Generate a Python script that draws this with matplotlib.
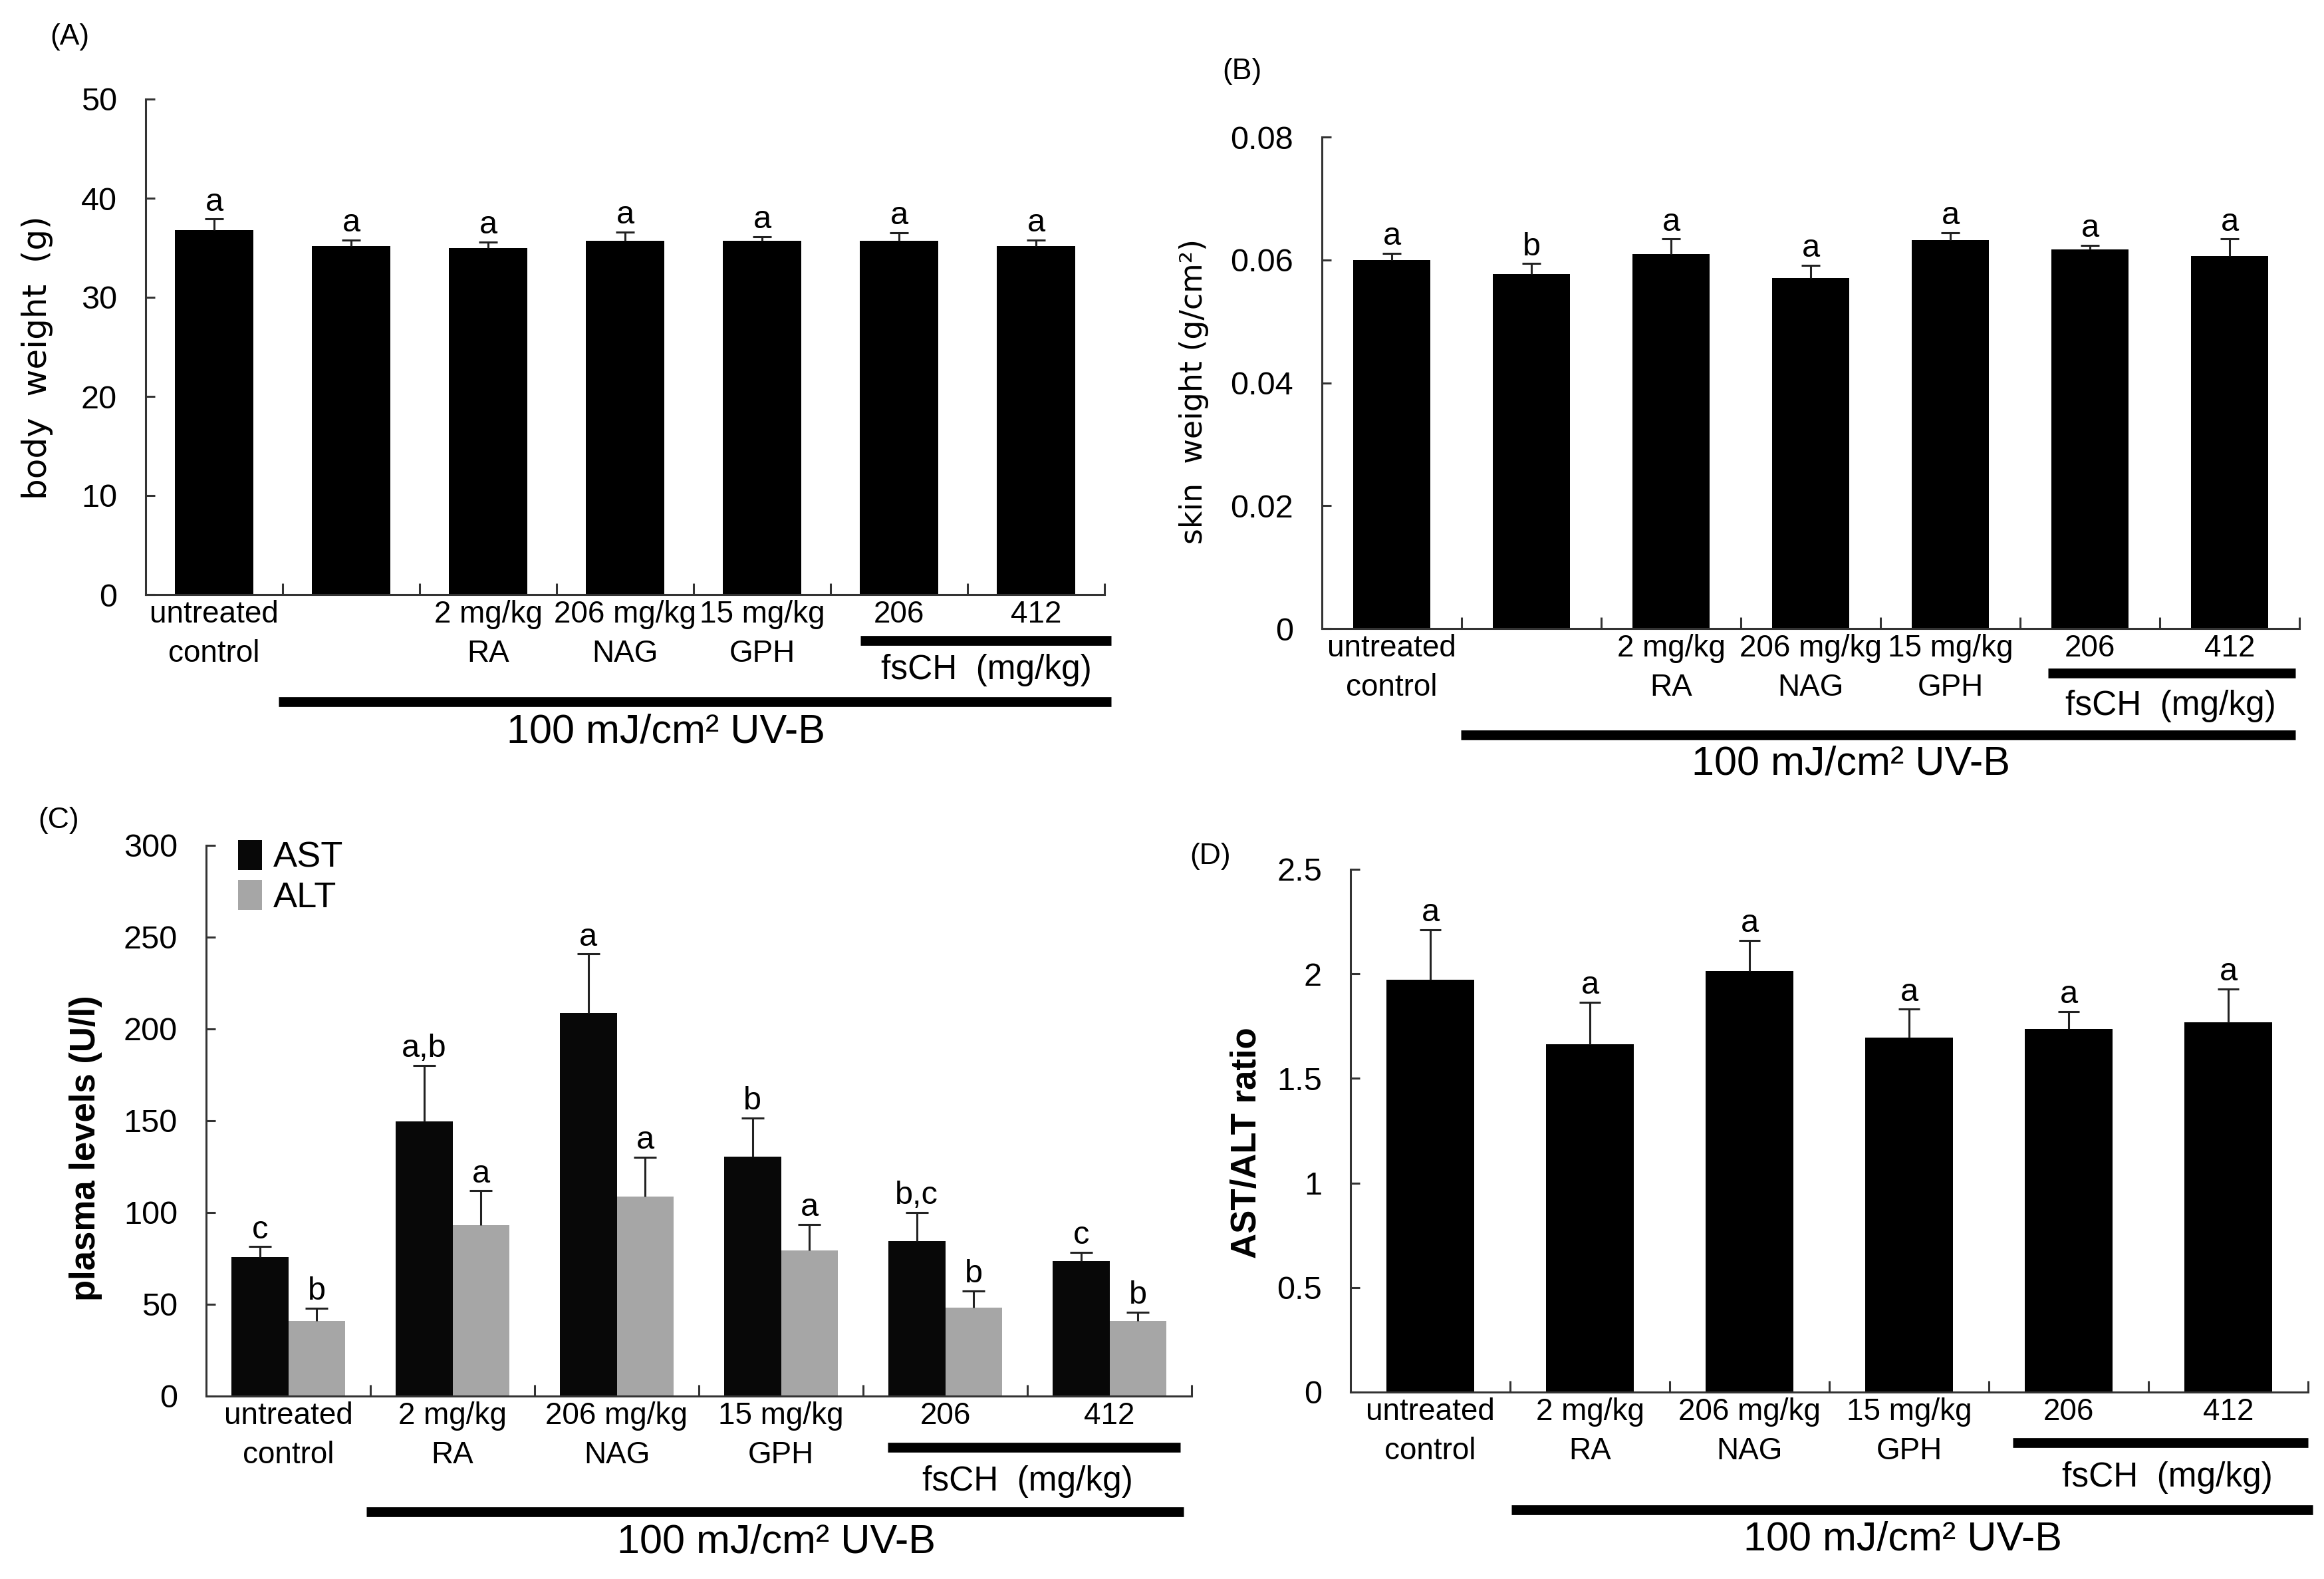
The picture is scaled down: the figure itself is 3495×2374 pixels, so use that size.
import matplotlib
matplotlib.use("Agg")
import matplotlib.pyplot as plt
import numpy as np
from matplotlib.transforms import blended_transform_factory
from matplotlib.patches import Patch

# ---------------- data ----------------
groups_AB = ["untreated\ncontrol", "", "2 mg/kg\nRA", "206 mg/kg\nNAG",
             "15 mg/kg\nGPH", "206", "412"]
groups_CD = ["untreated\ncontrol", "2 mg/kg\nRA", "206 mg/kg\nNAG",
             "15 mg/kg\nGPH", "206", "412"]

body_weight = [36.8, 35.2, 35.0, 35.7, 35.7, 35.7, 35.2]
body_err = [1.1, 0.6, 0.6, 0.9, 0.4, 0.8, 0.6]
body_letters = ["a", "a", "a", "a", "a", "a", "a"]

skin_weight = [0.0600, 0.0577, 0.0610, 0.0570, 0.0632, 0.0617, 0.0606]
skin_err = [0.0011, 0.0017, 0.0024, 0.0021, 0.0012, 0.0007, 0.0028]
skin_letters = ["a", "b", "a", "a", "a", "a", "a"]

ast = [75.7, 149.6, 208.7, 130.3, 84.4, 73.6]
ast_err = [5.7, 30.6, 32.1, 21.2, 15.5, 4.6]
ast_letters = ["c", "a,b", "a", "b", "b,c", "c"]
alt = [41.0, 93.1, 108.6, 79.5, 48.3, 41.0]
alt_err = [6.8, 18.7, 21.4, 14.1, 9.0, 4.6]
alt_letters = ["b", "a", "a", "a", "b", "b"]

ratio = [1.971, 1.664, 2.012, 1.695, 1.738, 1.769]
ratio_err = [0.241, 0.200, 0.148, 0.136, 0.081, 0.160]
ratio_letters = ["a", "a", "a", "a", "a", "a"]

yticks_A = [0, 10, 20, 30, 40, 50]
yticklabels_A = ["0", "10", "20", "30", "40", "50"]
yticks_B = [0, 0.02, 0.04, 0.06, 0.08]
yticklabels_B = ["0", "0.02", "0.04", "0.06", "0.08"]
yticks_C = [0, 50, 100, 150, 200, 250, 300]
yticklabels_C = ["0", "50", "100", "150", "200", "250", "300"]
yticks_D = [0, 0.5, 1, 1.5, 2, 2.5]
yticklabels_D = ["0", "0.5", "1", "1.5", "2", "2.5"]

# ---------------- figure ----------------
W, H, DPI = 3495, 2374, 200
FONT = ["Liberation Sans", "DejaVu Sans"]
plt.rcParams["font.family"] = FONT

fig = plt.figure(figsize=(W / DPI, H / DPI), dpi=DPI)
fig.patch.set_facecolor("white")


def px_rect(l, r, t, b):
    return [l / W, 1 - b / H, (r - l) / W, (b - t) / H]


axA = fig.add_axes(px_rect(219, 1661, 149, 894))
axB = fig.add_axes(px_rect(1988, 3458, 206, 945))
axC = fig.add_axes(px_rect(310, 1792, 1271, 2099))
axD = fig.add_axes(px_rect(2031, 3471, 1307, 2093))

SPINE = "#333333"
TICK_FS = 16.5


def style_axes(ax, n, ymax, yticks, yticklabels, xlabels):
    ax.set_xlim(-0.5, n - 0.5)
    ax.set_ylim(0, ymax)
    for s in ["top", "right"]:
        ax.spines[s].set_visible(False)
    for s in ["left", "bottom"]:
        ax.spines[s].set_linewidth(1.1)
        ax.spines[s].set_color(SPINE)
    ax.set_yticks(yticks, yticklabels)
    ax.tick_params(axis="y", direction="in", length=5, width=1.1, color=SPINE,
                   pad=15.5, labelsize=17.5)
    ax.set_xticks(np.arange(n), xlabels)
    ax.set_xticks(np.arange(n) + 0.5, minor=True)
    ax.tick_params(axis="x", which="major", length=0, pad=3, labelsize=TICK_FS)
    ax.tick_params(axis="x", which="minor", direction="in", length=6,
                   width=1.1, color=SPINE)
    for t in ax.get_xticklabels():
        t.set_linespacing(1.42)


def err_and_letters(ax, x, vals, errs, letters, half=0.068):
    vals = np.asarray(vals)
    tops = vals + np.asarray(errs)
    ax.vlines(x, vals, tops, colors="#222222", lw=1.1, zorder=3)
    ax.hlines(tops, x - half, x + half, colors="#222222", lw=1.1, zorder=3)
    for xi, t, l in zip(x, tops, letters):
        ax.annotate(l, (xi, t), xytext=(0, 1), textcoords="offset points",
                    ha="center", va="bottom", fontsize=17.5)


def brackets(ax, fs_x, fs_off, fs_tx, fs_toff, uv_x, uv_off, uv_tx, uv_toff):
    hpx = ax.get_position().height * H
    tr = blended_transform_factory(ax.transData, ax.transAxes)
    ax.plot(fs_x, [-fs_off / hpx] * 2, transform=tr, color="black", lw=5.3,
            clip_on=False, solid_capstyle="butt")
    ax.text(fs_tx, -fs_toff / hpx, "fsCH  (mg/kg)", transform=tr, ha="center",
            va="center", fontsize=18.5)
    ax.plot(uv_x, [-uv_off / hpx] * 2, transform=tr, color="black", lw=5.3,
            clip_on=False, solid_capstyle="butt")
    ax.text(uv_tx, -uv_toff / hpx, "100 mJ/cm² UV-B", transform=tr,
            ha="center", va="center", fontsize=22)


# ---- (A) body weight ----
nA = len(groups_AB)
xA = np.arange(nA)
axA.bar(xA, body_weight, width=0.573, color="black", zorder=2)
err_and_letters(axA, xA, body_weight, body_err, body_letters)
style_axes(axA, nA, 50, yticks_A, yticklabels_A, groups_AB)
axA.text(-0.113, 0.478, "body  weight  (g)", transform=axA.transAxes,
         rotation=90, ha="center", va="center", fontsize=18,
         family=["DejaVu Sans"])
brackets(axA, [4.72, 6.55], 69, 5.64, 114, [0.47, 6.55], 161, 3.3, 207)

# ---- (B) skin weight ----
xB = np.arange(nA)
axB.bar(xB, skin_weight, width=0.548, color="black", zorder=2)
err_and_letters(axB, xB, skin_weight, skin_err, skin_letters)
style_axes(axB, nA, 0.08, yticks_B, yticklabels_B, groups_AB)
axB.text(-0.131, 0.482, "skin  weight (g/cm²)", transform=axB.transAxes,
         rotation=90, ha="center", va="center", fontsize=16.5,
         family=["DejaVu Sans"])
brackets(axB, [4.70, 6.47], 67, 5.58, 116, [0.495, 6.47], 160, 3.29, 204)

# ---- (C) plasma levels ----
nC = len(groups_CD)
xC = np.arange(nC)
bw = 0.346
axC.bar(xC - bw / 2, ast, width=bw, color="#080808", zorder=2, label="AST")
axC.bar(xC + bw / 2, alt, width=bw, color="#a6a6a6", zorder=2, label="ALT")
err_and_letters(axC, xC - bw / 2, ast, ast_err, ast_letters)
err_and_letters(axC, xC + bw / 2, alt, alt_err, alt_letters)
style_axes(axC, nC, 300, yticks_C, yticklabels_C, groups_CD)
axC.text(-0.122, 0.45, "plasma levels (U/l)", transform=axC.transAxes,
         rotation=90, ha="center", va="center", fontsize=19, fontweight="bold")
axC.legend(handles=[Patch(facecolor="#080808", edgecolor="none", label="AST"),
                    Patch(facecolor="#a6a6a6", edgecolor="none", label="ALT")],
           loc="upper left", bbox_to_anchor=(0.0324, 1.01), frameon=False,
           borderaxespad=0, borderpad=0, fontsize=19.5, handlelength=0.67,
           handleheight=0.9, handletextpad=0.3, labelspacing=0.15)
brackets(axC, [3.65, 5.43], 77, 4.5, 128, [0.476, 5.45], 174, 2.97, 221)

# ---- (D) AST/ALT ratio ----
xD = np.arange(nC)
axD.bar(xD, ratio, width=0.546, color="black", zorder=2)
err_and_letters(axD, xD, ratio, ratio_err, ratio_letters)
style_axes(axD, nC, 2.5, yticks_D, yticklabels_D, groups_CD)
axD.text(-0.108, 0.477, "AST/ALT ratio", transform=axD.transAxes,
         rotation=90, ha="center", va="center", fontsize=19, fontweight="bold")
brackets(axD, [3.65, 5.5], 76, 4.62, 129, [0.51, 5.53], 177, 2.96, 222)

# ---- panel labels ----
for lab, (px, py) in {"(A)": (105, 55), "(B)": (1868, 108),
                      "(C)": (88, 1234), "(D)": (1820, 1288)}.items():
    fig.text(px / W, 1 - py / H, lab, ha="center", va="center", fontsize=16)

fig.savefig("out.png", dpi=DPI, facecolor="white")
